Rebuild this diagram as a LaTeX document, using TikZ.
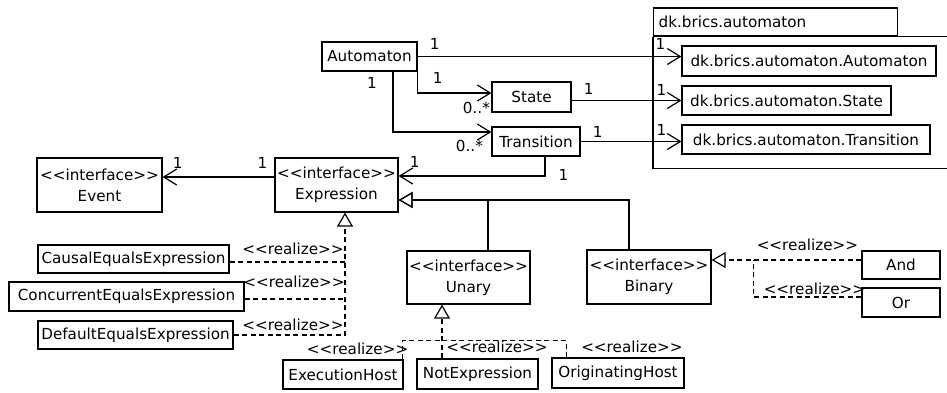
\documentclass[tikz,border=0pt]{standalone}
\usepackage{fontspec}
\newfontfamily\umlfont{DejaVu Sans}
\usetikzlibrary{arrows.meta}

\begin{document}
\begin{tikzpicture}[x=1pt, y=-1pt,
  every node/.style={font=\umlfont\fontsize{15.2}{21}\selectfont},
  cls/.style={draw, line width=1.2pt, inner sep=0pt, align=center},
  lbl/.style={inner sep=0pt},
  assoc/.style={line width=1.2pt, -{Straight Barb[length=13pt, width=16pt]}},
  gen/.style={line width=1.2pt, -{Triangle[open, length=14pt, width=16pt]}},
  realline/.style={line width=1.2pt, dash pattern=on 5pt off 3.5pt},
  real/.style={gen, dash pattern=on 5pt off 3.5pt}]
  \useasboundingbox (0,0) rectangle (947,392);

  % Package dk.brics.automaton
  \node[cls, anchor=west, text width=234pt, align=left, inner xsep=5pt, minimum height=28pt] (pkg) at (653,22) {dk.brics.automaton};
  \draw[line width=1.2pt] (pkg.south east) -- ++(60,0);
  \draw[line width=1.2pt] (pkg.south west) -- ++(0,132) -- ++(300,0);
  \node[cls, minimum width=254pt, minimum height=30pt] (dkauto) at (809,61) {dk.brics.automaton.Automaton};
  \node[cls, minimum width=209pt, minimum height=29pt] (dkstate) at (786.5,100.5) {dk.brics.automaton.State};
  \node[cls, minimum width=248pt, minimum height=29pt] (dktrans) at (806,139.5) {dk.brics.automaton.Transition};

  % Automaton classes
  \node[cls, minimum width=95pt, minimum height=29pt] (auto) at (369.5,56.5) {Automaton};
  \node[cls, minimum width=79pt, minimum height=30pt] (state) at (531.5,97) {State};
  \node[cls, minimum width=88pt, minimum height=29pt] (trans) at (536,141.5) {Transition};

  % Interfaces
  \node[cls, minimum width=125pt, minimum height=54pt] (event) at (99.5,185) {<<interface>>\\Event};
  \node[cls, minimum width=123pt, minimum height=54pt] (expr) at (336.5,185) {<<interface>>\\Expression};
  \node[cls, minimum width=123pt, minimum height=53pt] (unary) at (468.5,277.5) {<<interface>>\\Unary};
  \node[cls, minimum width=124pt, minimum height=54pt] (binary) at (649,277) {<<interface>>\\Binary};

  % Expression classes
  \node[cls, minimum width=191pt, minimum height=28pt] (causal) at (133.5,259) {CausalEqualsExpression};
  \node[cls, minimum width=235pt, minimum height=29pt] (concur) at (126.5,296.5) {ConcurrentEqualsExpression};
  \node[cls, minimum width=195pt, minimum height=28pt] (default) at (135.5,335) {DefaultEqualsExpression};
  \node[cls, minimum width=120pt, minimum height=29pt] (exechost) at (343,374.5) {ExecutionHost};
  \node[cls, minimum width=121pt, minimum height=30pt] (notexpr) at (477.5,374) {NotExpression};
  \node[cls, minimum width=132pt, minimum height=30pt] (orighost) at (618,373) {OriginatingHost};
  \node[cls, minimum width=78pt, minimum height=28pt] (and) at (901,265) {And};
  \node[cls, minimum width=78pt, minimum height=29pt] (or) at (901,302.5) {Or};

  % Associations
  \draw[assoc] (auto.east) -- (auto.east -| dkauto.west)
    node[lbl, pos=0, shift={(17,-12.5)}] (m1) {1}
    node[lbl, pos=1, shift={(-21,-12.5)}] (m2) {1};
  \draw[assoc] (auto.south east) |- ([yshift=4pt]state.west)
    node[lbl, pos=0, shift={(20,6)}] (m3) {1}
    node[lbl, pos=1, shift={(-15,15)}] (m4) {0..*};
  \draw[assoc] ([xshift=23.5pt]auto.south) |- ([yshift=9.5pt]trans.west)
    node[lbl, pos=0, shift={(-21,11)}] (m5) {1}
    node[lbl, pos=1, shift={(-22,14)}] (m6) {0..*};
  \draw[assoc] (dkstate.west -| state.east) -- (dkstate.west)
    node[lbl, pos=0, shift={(17,-12)}] (m7) {1}
    node[lbl, pos=1, shift={(-20,-11)}] (m8) {1};
  \draw[assoc] (trans.east) -- (trans.east -| dktrans.west)
    node[lbl, pos=0, shift={(17,-10)}] (m9) {1}
    node[lbl, pos=1, shift={(-20,-11.5)}] (m10) {1};
  \draw[assoc] ([yshift=8pt]expr.west) -- ([yshift=8pt]event.east)
    node[lbl, pos=0, shift={(-12,-14)}] (m11) {1}
    node[lbl, pos=1, shift={(15,-14)}] (m12) {1};
  \draw[assoc] ([xshift=9pt]trans.south) |- ([yshift=9pt]expr.east)
    node[lbl, pos=0, shift={(18.5,18)}] (m13) {1}
    node[lbl, pos=1, shift={(16,-14)}] (m14) {1};

  % Generalizations
  \draw[gen] ([xshift=19.5pt]unary.north) |- ([yshift=-15pt]expr.east);
  \draw[gen] ([xshift=-20pt]binary.north) |- ([yshift=-15pt]expr.east);

  % Realizations of Expression
  \coordinate (etip) at ([xshift=8.5pt]expr.south);
  \draw[real] (default.east) -| (etip)
    node[lbl, pos=0.5, shift={(-52,-10.5)}] (r3) {<<realize>>};
  \draw[realline] ([yshift=-3pt]causal.east) -- ([yshift=-3pt]causal.east -| etip)
    node[lbl, pos=1, shift={(-52,-13.5)}] (r1) {<<realize>>};
  \draw[realline] ([yshift=-2.5pt]concur.east) -- ([yshift=-2.5pt]concur.east -| etip)
    node[lbl, pos=1, shift={(-51,-17)}] (r2) {<<realize>>};

  % Realizations of Unary
  \coordinate (utip) at ([xshift=-26.5pt]unary.south);
  \coordinate (ubus) at ([yshift=-36pt]utip);
  \draw[real] (notexpr.north -| utip) -- (utip)
    node[lbl, pos=0, shift={(55,-11.5)}] (r5) {<<realize>>};
  \draw[realline] ([xshift=-1pt]exechost.north east)
    node[lbl, shift={(-45,-11)}] (r4) {<<realize>>} |- (ubus);
  \draw[realline] ([xshift=15pt]orighost.north west)
    node[lbl, shift={(65.5,-11)}] (r6) {<<realize>>} |- (ubus);

  % Realizations of Binary
  \coordinate (btip) at ([yshift=17pt]binary.east);
  \coordinate (bjoin) at ([xshift=42pt]btip);
  \draw[real] ([yshift=5pt]and.west) -- (btip)
    node[lbl, pos=0, shift={(-54,-15)}] (r7) {<<realize>>};
  \draw[realline] ([yshift=5.5pt]or.west)
    node[lbl, shift={(-47,-8.5)}] (r8) {<<realize>>} -| (bjoin);
\end{tikzpicture}
\end{document}
